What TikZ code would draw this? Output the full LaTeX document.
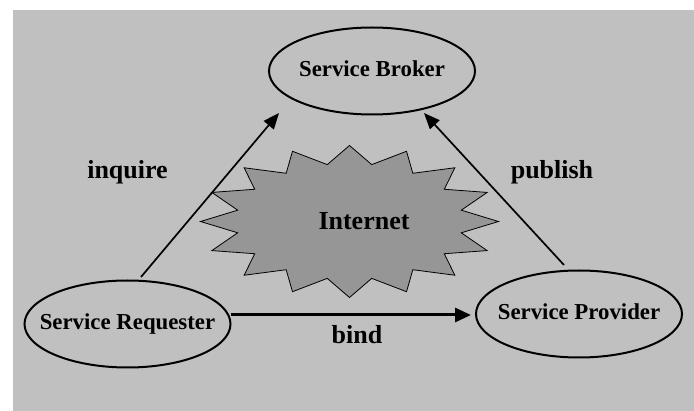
\documentclass[tikz,border=0pt]{standalone}
\usepackage{fontspec}
\setmainfont{Liberation Serif}
\usepackage{tikz}
\usetikzlibrary{shapes.geometric,arrows.meta}
\definecolor{bggray}{HTML}{C0C0C0}
\definecolor{burstgray}{HTML}{969696}
\tikzstyle{svc}=[draw=black,line width=2pt,ellipse,minimum width=206pt,minimum height=87pt,
    inner xsep=-20pt,text height=16pt,text depth=5pt,font=\fontsize{22.8}{26}\selectfont\bfseries]
\tikzstyle{lbl}=[anchor=base,inner sep=0pt,font=\fontsize{26}{30}\selectfont\bfseries]
\tikzstyle{flow}=[line width=1.7pt,-{Triangle[length=16pt,width=13pt]}]
\tikzstyle{bindflow}=[line width=3pt,-{Triangle[length=16pt,width=14pt]}]
\tikzstyle{burst}=[draw=black,line width=0.8pt,fill=burstgray]

\begin{document}
\begin{tikzpicture}[x=1pt,y=-1pt]
    \useasboundingbox (0,0) rectangle (694,411);
    \fill[bggray] (13,10) rectangle (694,411);
    % the cloud in the middle
    \draw[burst,shift={(349.5,221.5)}] (78.75:114 and 58)
        \foreach \k in {0,...,15}{ -- ({90+\k*22.5}:149 and 76) -- ({101.25+\k*22.5}:114 and 58)} -- cycle;
    \node[lbl] (net) at (364,230) {Internet};
    % the three roles
    \node[svc] (broker) at (372,71) {Service Broker};
    \node[svc] (requester) at (127.5,324) {Service Requester};
    \node[svc] (provider) at (579,314) {Service Provider};
    % arrow ends
    \coordinate (inqS) at (141,277);
    \coordinate (inqE) at (279,113);
    \coordinate (pubS) at (564,265);
    \coordinate (pubE) at (424,113);
    \coordinate (bindS) at (231,315);
    \coordinate (bindE) at (471,315);
    \draw[flow] (inqS) -- (inqE);
    \draw[flow] (pubS) -- (pubE);
    \draw[bindflow] (bindS) -- (bindE);
    \node[lbl] (inquire) at (127.5,179) {inquire};
    \node[lbl] (publish) at (552,178.5) {publish};
    \node[lbl] (bind) at (357,344) {bind};
\end{tikzpicture}
\end{document}
